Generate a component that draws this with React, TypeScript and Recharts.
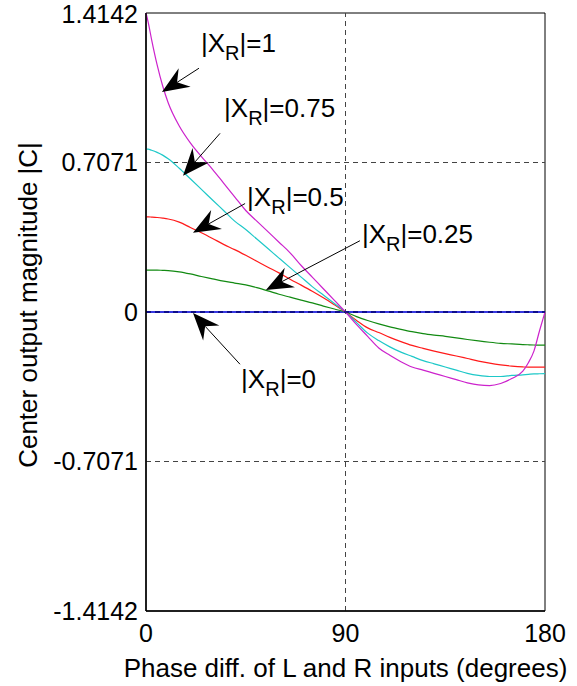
import React from 'react';
import {
  LineChart,
  Line,
  XAxis,
  YAxis,
  ReferenceLine,
  ReferenceDot,
  ReferenceArea,
} from 'recharts';

// phase difference between L and R (degrees)
const phase = [
  0, 1, 2.5, 5, 7.5, 10, 15, 20, 25, 30, 35, 40, 45, 50, 55, 60, 65, 70, 75, 80, 85, 90,
  95, 100, 105, 110, 115, 120, 125, 130, 135, 140, 145, 150, 155, 160, 165, 170, 172.5, 175,
  177.5, 180,
];

// centre output |C| for each |X_R|
const xr1 = [
  1.4142, 1.37, 1.29, 1.17, 1.07, 0.99, 0.88, 0.8, 0.735, 0.675, 0.61, 0.545, 0.48, 0.43,
  0.38, 0.33, 0.28, 0.22, 0.165, 0.11, 0.055, 0, -0.06, -0.115, -0.17, -0.205, -0.235, -0.26,
  -0.275, -0.29, -0.305, -0.32, -0.335, -0.345, -0.348, -0.338, -0.315, -0.28, -0.24,
  -0.185, -0.09, 0,
];
const xr075 = [
  0.77, 0.77, 0.765, 0.755, 0.742, 0.725, 0.68, 0.63, 0.58, 0.53, 0.48, 0.43, 0.39, 0.345,
  0.3, 0.255, 0.21, 0.165, 0.12, 0.08, 0.04, 0, -0.05, -0.1, -0.135, -0.165, -0.19, -0.21,
  -0.23, -0.245, -0.26, -0.275, -0.29, -0.3, -0.305, -0.305, -0.3, -0.297, -0.295, -0.293,
  -0.292, -0.291,
];
const xr05 = [
  0.45, 0.45, 0.449, 0.447, 0.444, 0.44, 0.425, 0.4, 0.375, 0.348, 0.32, 0.295, 0.268, 0.24,
  0.212, 0.185, 0.155, 0.127, 0.098, 0.067, 0.034, 0, -0.04, -0.075, -0.097, -0.12, -0.14,
  -0.158, -0.172, -0.185, -0.197, -0.208, -0.22, -0.232, -0.242, -0.25, -0.256, -0.26,
  -0.261, -0.261, -0.261, -0.261,
];
const xr025 = [
  0.198, 0.198, 0.198, 0.198, 0.197, 0.196, 0.19, 0.18, 0.168, 0.157, 0.146, 0.137, 0.128,
  0.115, 0.1, 0.084, 0.07, 0.056, 0.043, 0.028, 0.014, 0, -0.022, -0.04, -0.056, -0.07,
  -0.082, -0.093, -0.102, -0.109, -0.115, -0.122, -0.13, -0.137, -0.143, -0.148, -0.151,
  -0.154, -0.155, -0.156, -0.157, -0.157,
];
const xr0 = [
  0, 0, 0, 0, 0, 0, 0, 0, 0, 0, 0, 0, 0, 0, 0, 0, 0, 0, 0, 0, 0, 0,
  0, 0, 0, 0, 0, 0, 0, 0, 0, 0, 0, 0, 0, 0, 0, 0, 0, 0, 0, 0,
];

const yTicks = [-1.4142, -0.7071, 0, 0.7071, 1.4142];
const xTicks = [0, 90, 180];

// callouts: label value, text anchor, arrow tail and tip (data units)
const callouts = [
  { value: '1', text: [24.8, 1.229], tail: [23.9, 1.153], tip: [7.2, 1.04] },
  { value: '0.75', text: [35.2, 0.921], tail: [33.4, 0.845], tip: [16.7, 0.645] },
  { value: '0.5', text: [45.6, 0.503], tail: [44.7, 0.513], tip: [21.2, 0.375] },
  { value: '0.25', text: [97.4, 0.327], tail: [96.5, 0.337], tip: [54.1, 0.104] },
  { value: '0', text: [42.9, -0.361], tail: [42.4, -0.247], tip: [21.2, -0.005] },
];

const data = phase.map((p, i) => ({
  phase: p,
  xr0: xr0[i],
  xr025: xr025[i],
  xr05: xr05[i],
  xr075: xr075[i],
  xr1: xr1[i],
}));

const FONT = '"Liberation Sans", Arial, Helvetica, sans-serif';

const Arrow = (props: any) => {
  const { x1, y1, x2, y2 } = props;
  const dx = x1 - x2;
  const dy = y1 - y2;
  const len = Math.hypot(dx, dy) || 1;
  const ux = dx / len;
  const uy = dy / len;
  const nx = -uy;
  const ny = ux;
  const L = 27;
  const W = 11;
  const N = 18;
  const pts = [
    [x2, y2],
    [x2 + ux * L + nx * W, y2 + uy * L + ny * W],
    [x2 + ux * N, y2 + uy * N],
    [x2 + ux * L - nx * W, y2 + uy * L - ny * W],
  ]
    .map((p) => p.join(','))
    .join(' ');
  return (
    <g>
      <line x1={x1} y1={y1} x2={x2 + ux * N} y2={y2 + uy * N} stroke="#000" strokeWidth={1} />
      <polygon points={pts} fill="#000" />
    </g>
  );
};

const calloutText = (value: string) => (props: any) => (
  <text x={props.cx} y={props.cy} fontFamily={FONT} fontSize={26} fill="#000">
    |X
    <tspan dy={8} fontSize={20}>
      R
    </tspan>
    <tspan dy={-8}>|={value}</tspan>
  </text>
);

const YTitle = (props: any) => {
  const { viewBox } = props;
  const x = viewBox.x + 37;
  const y = viewBox.y + viewBox.height / 2 - 7;
  return (
    <text
      transform={`translate(${x},${y}) rotate(-90)`}
      textAnchor="middle"
      fontFamily={FONT}
      fontSize={26}
      fill="#000"
    >
      Center output magnitude |C|
    </text>
  );
};

const XTitle = (props: any) => {
  const { viewBox } = props;
  return (
    <text
      x={viewBox.x + viewBox.width / 2}
      y={viewBox.y + viewBox.height - 9}
      textAnchor="middle"
      fontFamily={FONT}
      fontSize={26}
      fill="#000"
    >
      Phase diff. of L and R inputs (degrees)
    </text>
  );
};

const tickStyle = { fill: '#000', fontSize: 25, fontFamily: FONT };

export default function App() {
  return (
    <div style={{ position: 'absolute', left: 0, top: 0, width: 577, height: 686, background: '#fff' }}>
      <LineChart width={577} height={686} data={data} margin={{ top: 13, right: 32, bottom: 0, left: 0 }}>
        <XAxis
          dataKey="phase"
          type="number"
          domain={[0, 180]}
          ticks={xTicks}
          tickLine={false}
          tickMargin={7}
          tick={tickStyle}
          axisLine={{ stroke: '#000', strokeWidth: 1.5 }}
          height={75}
          label={<XTitle />}
        />
        <YAxis
          type="number"
          domain={[-1.4142, 1.4142]}
          ticks={yTicks}
          tickFormatter={(v: number) => (v === 0 ? '0' : v.toFixed(4))}
          tickLine={false}
          tick={tickStyle}
          axisLine={{ stroke: '#000', strokeWidth: 1.5 }}
          width={146}
          label={<YTitle />}
        />
        <ReferenceArea x1={0} x2={180} y1={-1.4142} y2={1.4142} fill="none" stroke="#000" strokeWidth={1} />
        <ReferenceLine x={90} stroke="#444" strokeDasharray="5 4" />
        <ReferenceLine y={0.7071} stroke="#444" strokeDasharray="5 4" />
        <ReferenceLine y={-0.7071} stroke="#444" strokeDasharray="5 4" />

        <Line type="monotone" dataKey="xr0" stroke="#3838e0" strokeWidth={2} dot={false} isAnimationActive={false} />
        <Line type="monotone" dataKey="xr025" stroke="#128a12" strokeWidth={1.2} dot={false} isAnimationActive={false} />
        <Line type="monotone" dataKey="xr05" stroke="#ff1a1a" strokeWidth={1.2} dot={false} isAnimationActive={false} />
        <Line type="monotone" dataKey="xr075" stroke="#1ec8c8" strokeWidth={1.2} dot={false} isAnimationActive={false} />
        <Line type="monotone" dataKey="xr1" stroke="#cc22cc" strokeWidth={1.2} dot={false} isAnimationActive={false} />
        <ReferenceLine y={0} stroke="#000070" strokeDasharray="5 4" strokeWidth={1.5} />

        {callouts.map((c) => (
          <ReferenceLine
            key={`a${c.value}`}
            segment={[
              { x: c.tail[0], y: c.tail[1] },
              { x: c.tip[0], y: c.tip[1] },
            ]}
            shape={Arrow}
          />
        ))}
        {callouts.map((c) => (
          <ReferenceDot key={`t${c.value}`} x={c.text[0]} y={c.text[1]} r={0} shape={calloutText(c.value)} />
        ))}
      </LineChart>
    </div>
  );
}
